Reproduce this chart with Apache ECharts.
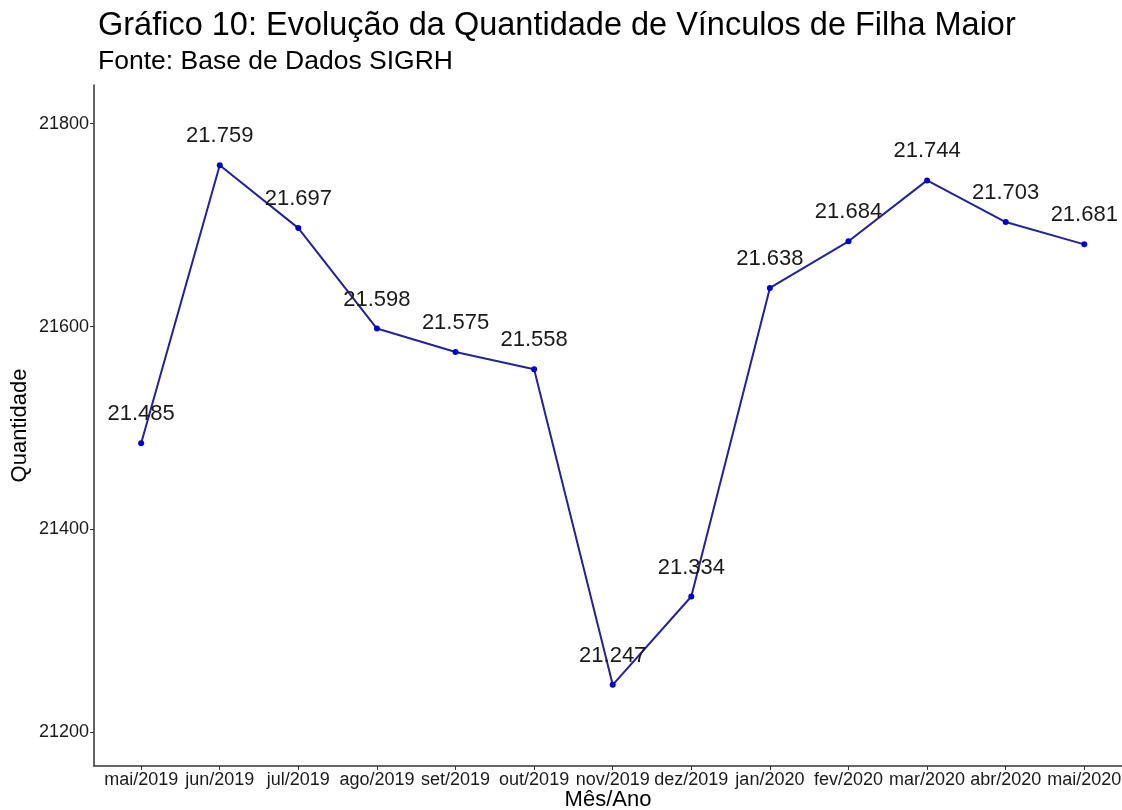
<!DOCTYPE html>
<html>
<head>
<meta charset="utf-8">
<script src="https://cdn.jsdelivr.net/npm/echarts@6/dist/echarts.min.js"></script>
<style>
  html, body { margin: 0; padding: 0; background: #fff; }
  #chart { width: 1122px; height: 810px; }
</style>
</head>
<body>
<div id="chart"></div>
<script>
var meses = ['mai/2019', 'jun/2019', 'jul/2019', 'ago/2019', 'set/2019', 'out/2019',
    'nov/2019', 'dez/2019', 'jan/2020', 'fev/2020', 'mar/2020', 'abr/2020', 'mai/2020'];
var quantidade = [21485, 21759, 21697, 21598, 21575, 21558, 21247, 21334, 21638, 21684, 21744, 21703, 21681];
var yTicks = [21200, 21400, 21600, 21800];

// formata com ponto como separador de milhar
function fmt(v) {
    return String(v).replace(/\B(?=(\d{3})+(?!\d))/g, '.');
}

var font = 'Liberation Sans, Arial, sans-serif';
var chart = echarts.init(document.getElementById('chart'));
chart.setOption({
    animation: false,
    title: {
        text: 'Gráfico 10: Evolução da Quantidade de Vínculos de Filha Maior',
        subtext: 'Fonte: Base de Dados SIGRH',
        left: 93,
        top: 5,
        itemGap: 5,
        textStyle: { fontFamily: font, fontSize: 32.5, fontWeight: 'normal', color: '#000' },
        subtextStyle: { fontFamily: font, fontSize: 26.5, color: '#000' }
    },
    grid: { left: 94, right: 0, top: 85, bottom: 44, outerBoundsMode: 'none' },
    xAxis: {
        type: 'value',
        min: -0.6,
        max: 12.48,
        name: 'Mês/Ano',
        nameLocation: 'middle',
        nameGap: 23,
        nameMoveOverlap: false,
        nameTextStyle: { fontFamily: font, fontSize: 22, color: '#000' },
        axisLine: { onZero: false, lineStyle: { color: '#333', width: 1.5 } },
        axisTick: { customValues: meses.map(function (m, i) { return i; }), length: 4, lineStyle: { color: '#333' } },
        axisLabel: {
            customValues: meses.map(function (m, i) { return i; }),
            formatter: function (v) { return meses[Math.round(v)]; },
            fontFamily: font, fontSize: 18, color: '#1a1a1a', margin: 5
        },
        splitLine: { show: false }
    },
    yAxis: {
        type: 'value',
        min: 21167,
        max: 21838,
        name: 'Quantidade',
        nameLocation: 'middle',
        nameGap: 63,
        nameMoveOverlap: false,
        nameTextStyle: { fontFamily: font, fontSize: 22, color: '#000' },
        axisLine: { show: true, onZero: false, lineStyle: { color: '#333', width: 1.5 } },
        axisTick: { show: true, customValues: yTicks, length: 4, lineStyle: { color: '#333' } },
        axisLabel: {
            customValues: yTicks,
            formatter: function (v) { return String(v); },
            fontFamily: font, fontSize: 18, color: '#1a1a1a', margin: 5
        },
        splitLine: { show: false }
    },
    series: [{
        type: 'line',
        data: quantidade.map(function (v, i) { return [i, v]; }),
        symbol: 'circle',
        symbolSize: 6,
        itemStyle: { color: '#0000cc' },
        lineStyle: { color: '#22229a', width: 2 },
        label: {
            show: true,
            position: 'top',
            distance: 15,
            formatter: function (p) { return fmt(p.value[1]); },
            fontFamily: font, fontSize: 22, color: '#1a1a1a'
        }
    }]
});
</script>
</body>
</html>
